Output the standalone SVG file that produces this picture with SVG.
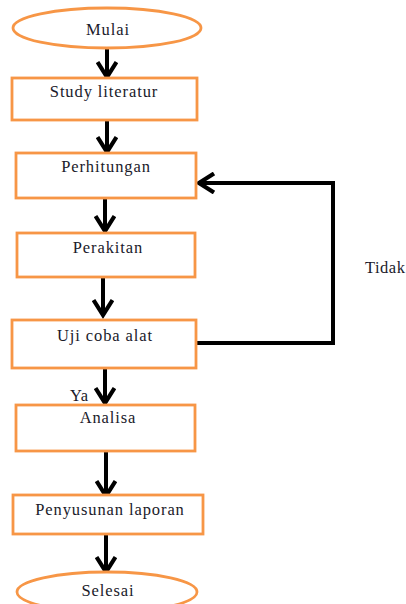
<svg xmlns="http://www.w3.org/2000/svg" width="406" height="604" viewBox="0 0 406 604">
<style>
.n{fill:#fff;stroke:#F79646;stroke-width:2.8}
.t{font-family:"Liberation Serif","Times New Roman",serif;font-size:16.5px;fill:#1a1a2a;text-anchor:middle;letter-spacing:0.9px}
.l{font-family:"Liberation Serif","Times New Roman",serif;font-size:16.5px;fill:#1a1a2a;letter-spacing:0.5px}
.c{fill:none;stroke:#000;stroke-width:4}
</style>
<defs>
<marker id="ah" markerUnits="userSpaceOnUse" viewBox="0 0 22 22" refX="18" refY="11" markerWidth="22" markerHeight="22" orient="auto">
<polyline points="3,1.5 18,11 3,20.5" fill="none" stroke="#000" stroke-width="4.2" stroke-linejoin="miter"/>
</marker>
</defs>
<rect width="406" height="604" fill="#fff"/>
<g id="connectors">
<line class="c" x1="107" y1="49" x2="107" y2="77" marker-end="url(#ah)"/>
<line class="c" x1="107" y1="121" x2="107" y2="152" marker-end="url(#ah)"/>
<line class="c" x1="105" y1="199" x2="105" y2="231" marker-end="url(#ah)"/>
<line class="c" x1="103" y1="278" x2="103" y2="315" marker-end="url(#ah)"/>
<line class="c" x1="105" y1="369" x2="105" y2="403" marker-end="url(#ah)"/>
<line class="c" x1="106" y1="452" x2="106" y2="496" marker-end="url(#ah)"/>
<line class="c" x1="106" y1="535" x2="106" y2="572" marker-end="url(#ah)"/>
<polyline class="c" points="197,343 333,343 333,183 199,183" marker-end="url(#ah)"/>
<text class="l" x="70" y="401">Ya</text>
<text class="l" x="365" y="273">Tidak</text>
</g>
<g id="mulai">
<ellipse class="n" cx="107" cy="28" rx="94" ry="20"/>
<text class="t" x="108" y="35">Mulai</text>
</g>
<g id="study">
<rect class="n" x="12" y="78" width="185" height="42"/>
<text class="t" x="104" y="97">Study literatur</text>
</g>
<g id="perhitungan">
<rect class="n" x="16" y="153" width="180" height="45"/>
<text class="t" x="106" y="172">Perhitungan</text>
</g>
<g id="perakitan">
<rect class="n" x="17" y="233" width="178" height="44"/>
<text class="t" x="108" y="253">Perakitan</text>
</g>
<g id="ujicoba">
<rect class="n" x="12" y="320" width="184" height="48"/>
<text class="t" x="105" y="341">Uji coba alat</text>
</g>
<g id="analisa">
<rect class="n" x="16" y="405" width="179" height="46"/>
<text class="t" x="108" y="423">Analisa</text>
</g>
<g id="penyusunan">
<rect class="n" x="13" y="495" width="190" height="39"/>
<text class="t" x="110" y="515">Penyusunan  laporan</text>
</g>
<g id="selesai">
<ellipse class="n" cx="107" cy="592" rx="90" ry="20"/>
<text class="t" x="108" y="596">Selesai</text>
</g>
</svg>
